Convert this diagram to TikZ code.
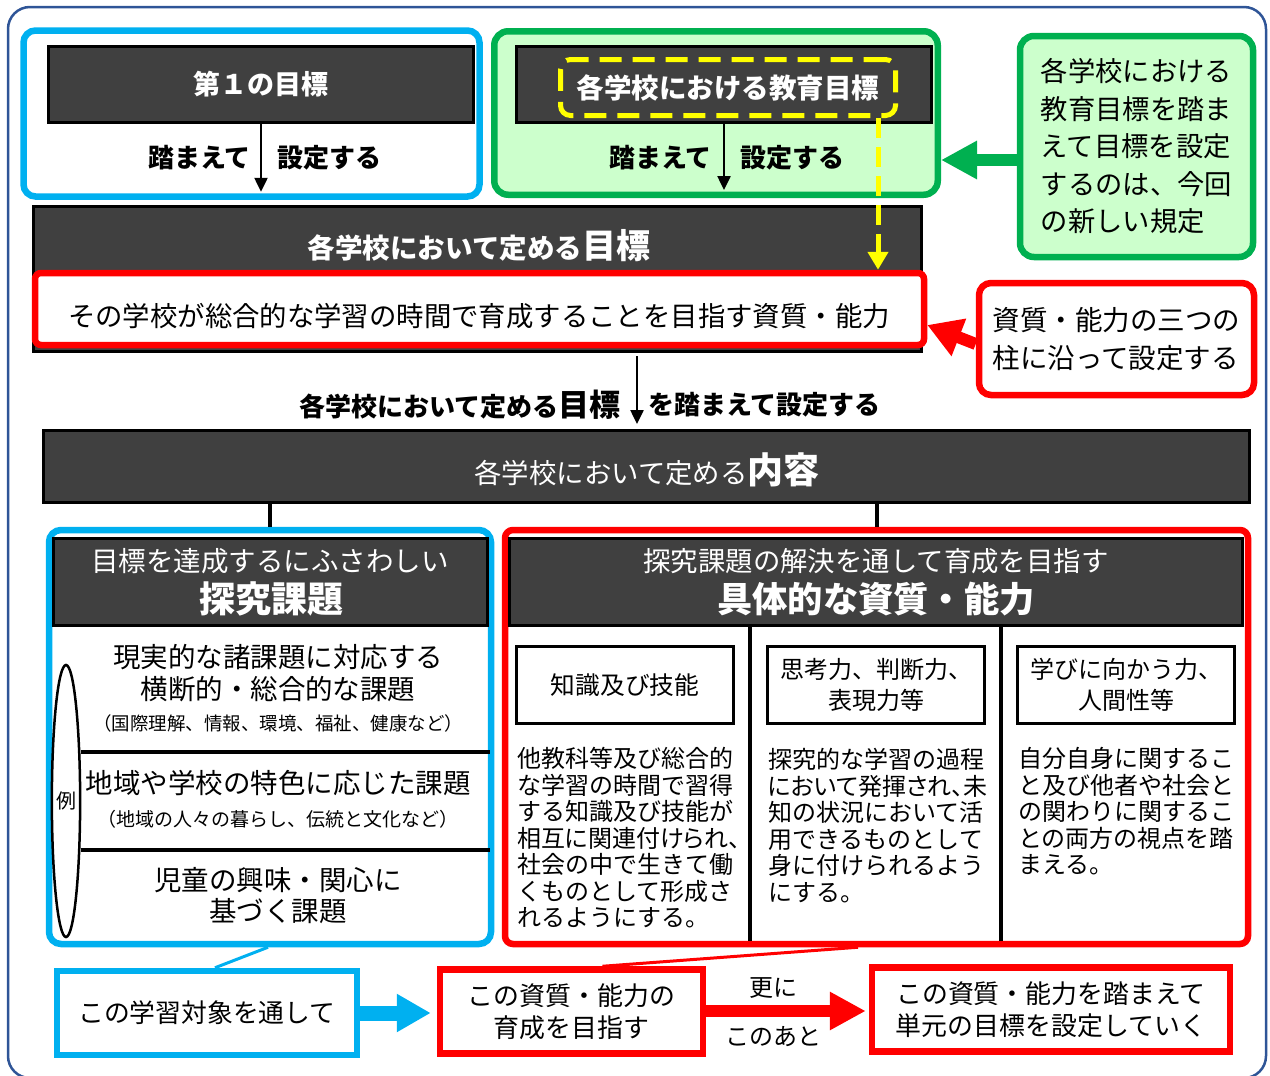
\documentclass[tikz,border=0pt]{standalone}
\usepackage{fontspec}
\setmainfont{Noto Sans CJK JP}
\newfontfamily\pfont{Noto Sans CJK JP}[RawFeature=+palt]
\usetikzlibrary{arrows.meta,shapes.geometric}
\definecolor{darkfill}{HTML}{404040}
\definecolor{cyanb}{HTML}{00B0F0}
\definecolor{greenb}{HTML}{00B050}
\definecolor{lgreen}{HTML}{CCFFCC}
\definecolor{redb}{HTML}{FF0000}
\definecolor{yel}{HTML}{FFFF00}
\definecolor{frameb}{HTML}{2F5597}
\newcommand\fsz[2]{\fontsize{#1pt}{#2pt}\selectfont}
\begin{document}
\begin{tikzpicture}[x=1pt,y=-1pt,
  every node/.style={inner sep=0pt},
  dim/.style 2 args={minimum width=#1pt, minimum height=#2pt},
  frm/.style={draw=frameb, line width=2.5pt, rounded corners=22pt},
  cyanbox/.style={draw=cyanb, line width=6.5pt, fill=white, rounded corners=12pt},
  greenbox/.style={draw=greenb, line width=6.5pt, fill=lgreen, rounded corners=14pt},
  redbox/.style={draw=redb, line width=6.5pt, fill=white, rounded corners=8pt},
  redsq/.style={draw=redb, line width=6.5pt, fill=white},
  cyansq/.style={draw=cyanb, line width=6.5pt, fill=white},
  darkbox/.style={draw=black, line width=3pt, fill=darkfill, text=white},
  whitebox/.style={draw=black, line width=3pt, fill=white},
  lbl/.style={font=\bfseries\fsz{26}{28}},
  thinarrow/.style={draw=black, line width=2.5pt, -{Triangle[length=14pt,width=13pt]}},
  yarrow/.style={draw=yel, line width=5pt, dash pattern=on 20pt off 9pt, -{Triangle[length=18pt,width=20pt]}},
  garrow/.style={draw=greenb, line width=12pt, -{Triangle[length=36pt,width=36pt]}},
  rarrow/.style={draw=redb, line width=12pt, -{Triangle[length=34pt,width=38pt]}},
  barrow/.style={draw=cyanb, line width=15pt, -{Triangle[length=34pt,width=36pt]}},
  conn/.style={draw=black, line width=4pt},
  sepline/.style={draw=black, line width=3.5pt},
  body/.style={align=left, anchor=west, font=\fsz{24}{26.5}},
]
\useasboundingbox (0,0) rectangle (1270,1076);
\node[frm, dim={1258}{1071}] (frame) at (637,542.5) {};

% top-left block
\node[cyanbox, dim={456}{166}] (blue1) at (251.5,113.5) {};
\node[darkbox, dim={425}{76}, font=\bfseries\fsz{27}{30}] (dark1) at (261,84.5) {第１の目標};
\draw[thinarrow, shorten >=8pt] (dark1.south) -- (dark1.south |- blue1.south);
\node[lbl, anchor=east] (l1a) at (251,158) {踏まえて};
\node[lbl, anchor=west] (l1b) at (277,158) {設定する};

% top-middle block
\node[greenbox, dim={443.5}{163.5}] (green1) at (716,113) {};
\node[darkbox, dim={415}{76}] (dark2) at (724,84.5) {};
\node[draw=yel, line width=5pt, dash pattern=on 22pt off 11pt, rounded corners=10pt, dim={335}{56}, text=white, font=\bfseries\fsz{27.5}{30}] (yb) at (728,87.5) {各学校における教育目標};
\draw[thinarrow, shorten >=8pt] (dark2.south) -- (dark2.south |- green1.south);
\node[lbl, anchor=east] (l2a) at (712,158) {踏まえて};
\node[lbl, anchor=west] (l2b) at (740,158) {設定する};

% right note (green)
\node[greenbox, dim={233}{221}, align=left, font=\fsz{27.3}{37.5}] (gnote) at (1136.5,146.5) {各学校における\\教育目標を踏ま\\えて目標を設定\\するのは、今回\\の新しい規定};
\coordinate (gy) at (0,160);
\draw[garrow] (gnote.west |- gy) -- (green1.east |- gy);

% goal block
\node[darkbox, dim={888}{145}] (dark3) at (477.5,279) {};
\node[text=white, font=\bfseries\fsz{27.5}{30}] (t3) at (479,246) {各学校において定める{\fsz{34}{36}目標}};
\node[redbox, rounded corners=6pt, dim={889}{72}] (rg) at (479.5,309) {};
\node[font=\fsz{27.4}{30}] (t4) at (479,316) {その学校が総合的な学習の時間で育成することを目指す資質・能力};
\coordinate (ya) at (878,118);
\draw[yarrow] (ya) -- (ya |- rg.north);

% right note (red)
\node[redbox, rounded corners=12pt, dim={275}{112}, align=left, font=\fsz{27.5}{38}] (rnote) at (1116.5,339) {資質・能力の三つの\\柱に沿って設定する};
\draw[rarrow] ([yshift=-5pt]rnote.west) -- ([yshift=-16pt]rg.east);

% middle arrow and content box
\node[darkbox, dim={1206}{72}] (d4) at (646.5,466.5) {};
\node[text=white] (t5) at (647,470) {{\fsz{27.4}{30}各学校において定める}{\bfseries\fsz{36}{38}内容}};
\coordinate (mx) at (637,0);
\draw[thinarrow, shorten <=8pt, shorten >=5pt] (rg.south -| mx) -- (d4.north -| mx);
\node[lbl, anchor=east] (m1) at (621,405) {各学校において定める{\fsz{31}{33}目標}};
\node[lbl, anchor=west] (m2) at (648,405) {を踏まえて設定する};

% tables
\node[cyanbox, dim={442}{414}] (blue2) at (270,737) {};
\node[redbox, dim={743}{414}] (red2) at (876.5,737) {};
\draw[conn] (d4.south -| blue2.north) -- (blue2.north);
\draw[conn] (d4.south -| red2.north) -- (red2.north);

% left table
\node[darkbox, dim={434}{87}] (hl) at (270.5,582) {};
\node[text=white, font=\fsz{27.5}{30}] (hl1) at (270,561) {目標を達成するにふさわしい};
\node[text=white, font=\bfseries\fsz{36}{38}] (hl2) at (271,599) {探究課題};
\node[draw, ellipse, line width=2.5pt, dim={28}{272}, font=\fsz{20}{22}] (rei) at (66,801) {例};
\draw[sepline] (rei.east |- 0,752) -- (490,752);
\draw[sepline] (rei.east |- 0,850) -- (490,850);
\node[align=center, font=\fsz{27.5}{32}] (r1a) at (278,673) {現実的な諸課題に対応する\\横断的・総合的な課題};
\node[font=\fsz{18.5}{20}] (r1b) at (278,723) {（国際理解、情報、環境、福祉、健康など）};
\node[font=\fsz{27.5}{30}] (r2a) at (278,783) {地域や学校の特色に応じた課題};
\node[font=\fsz{19}{20}] (r2b) at (278,819) {（地域の人々の暮らし、伝統と文化など）};
\node[align=center, font=\fsz{27.5}{31.5}] (r3) at (278,895.5) {児童の興味・関心に\\基づく課題};

% right table
\node[darkbox, dim={733}{87}] (hr) at (876,582) {};
\node[text=white, font=\fsz{27.4}{30}] (hr1) at (876,561) {探究課題の解決を通して育成を目指す};
\node[text=white, font=\bfseries\fsz{35.3}{38}] (hr2) at (876,599) {具体的な資質・能力};
\draw[sepline] (750,627) -- (750,941);
\draw[sepline] (1001,627) -- (1001,941);
\node[whitebox, dim={217}{77}, font=\fsz{24.7}{27}] (k1) at (625,685) {知識及び技能};
\node[whitebox, dim={217}{77}, align=center, font=\fsz{24}{31}] (k2) at (876,685) {思考力、判断力、\\表現力等};
\node[whitebox, dim={217}{77}, align=center, font=\fsz{24}{31}] (k3) at (1126,685) {学びに向かう力、\\人間性等};
\node[body] (c1) at (517,838) {他教科等及び総合的\\な学習の時間で習得\\する知識及び技能が\\{\pfont 相互に関連付けられ、}\\社会の中で生きて働\\くものとして形成さ\\れるようにする。};
\node[body] (c2) at (768,825.5) {探究的な学習の過程\\{\pfont において発揮され、未}\\知の状況において活\\用できるものとして\\身に付けられるよう\\にする。};
\node[body] (c3) at (1018,811.5) {自分自身に関するこ\\と及び他者や社会と\\の関わりに関するこ\\との両方の視点を踏\\まえる。};

% bottom row
\node[cyansq, dim={300}{84}, font=\fsz{25.8}{30}] (bb) at (207,1013) {この学習対象を通して};
\node[redsq, dim={263}{84}, align=center, font=\fsz{25.9}{32}] (rb1) at (571.5,1011.5) {この資質・能力の\\育成を目指す};
\node[redsq, dim={358}{84}, align=center, font=\fsz{25.9}{32}] (rb2) at (1051,1009.5) {この資質・能力を踏まえて\\単元の目標を設定していく};
\draw[draw=cyanb, line width=3pt] ([xshift=-2pt]blue2.south) -- ([xshift=8pt]bb.north);
\draw[draw=redb, line width=3pt] ([xshift=-18.5pt]red2.south) -- ([xshift=31pt]rb1.north);
\draw[barrow, shorten >=6pt] (bb.east) -- (bb.east -| rb1.west);
\draw[rarrow, -{Triangle[length=36pt,width=36pt]}, shorten >=3pt] (rb1.east |- 0,1011) -- (rb2.west |- 0,1011);
\node[font=\fsz{24}{26}] (sara) at (773,988) {更に};
\node[font=\fsz{24}{26}] (kono) at (773,1037) {このあと};
\end{tikzpicture}
\end{document}
